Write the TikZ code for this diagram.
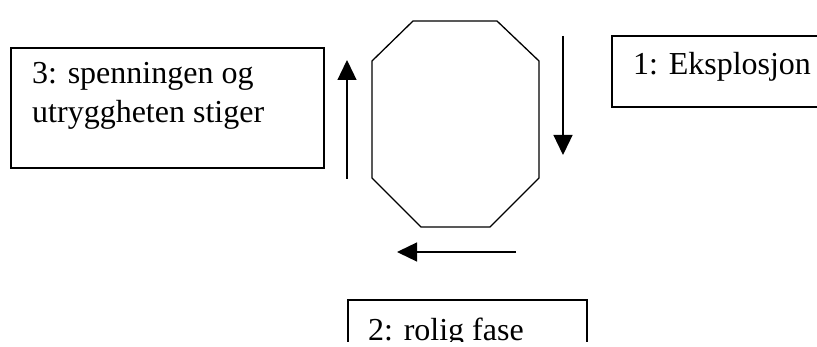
\documentclass[tikz,border=0pt]{standalone}
\usepackage{fontspec}
\setmainfont{Liberation Serif}
\usetikzlibrary{arrows.meta}
\tikzset{
  boxshape/.style={draw,line width=1.3pt,rectangle,inner sep=0pt,outer sep=0pt,anchor=north west},
  lbl/.style={inner sep=0pt,anchor=base west,font=\fontsize{32}{40}\selectfont},
  flow/.style={line width=1.3pt,-{Triangle[length=20pt,width=19pt]}},
  octo/.style={draw,line width=1.3pt}
}
\begin{document}
\begin{tikzpicture}[x=1pt,y=-1pt]
\useasboundingbox (0,0) rectangle (817,347);
\begin{scope}
\clip (0,0) rectangle (817,342);
% boxes
\node[boxshape,minimum width=313pt,minimum height=120pt] (b3) at (11,48) {};
\node[lbl] (t3a) at (32,84) {3: spenningen og};
\node[lbl] (t3b) at (32,123) {utryggheten stiger};
\node[boxshape,minimum width=220pt,minimum height=71pt] (b1) at (612,36) {};
\node[lbl] (t1) at (633,75) {1: Eksplosjon};
\node[boxshape,minimum width=239pt,minimum height=80pt] (b2) at (348,300) {};
\node[lbl] (t2) at (368,341) {2: rolig fase};
% octagon
\draw[octo] (413,21) -- (497,21) -- (539,61) -- (539,178) -- (490,227) -- (421,227) -- (372,178) -- (372,61) -- cycle;
% arrows
\coordinate (u0) at (347,179);
\coordinate (u1) at (347,60);
\coordinate (d0) at (563,36);
\coordinate (d1) at (563,155);
\coordinate (l0) at (516,252);
\coordinate (l1) at (397,252);
\draw[flow] (u0) -- (u1);
\draw[flow] (d0) -- (d1);
\draw[flow] (l0) -- (l1);
\end{scope}
\end{tikzpicture}
\end{document}
